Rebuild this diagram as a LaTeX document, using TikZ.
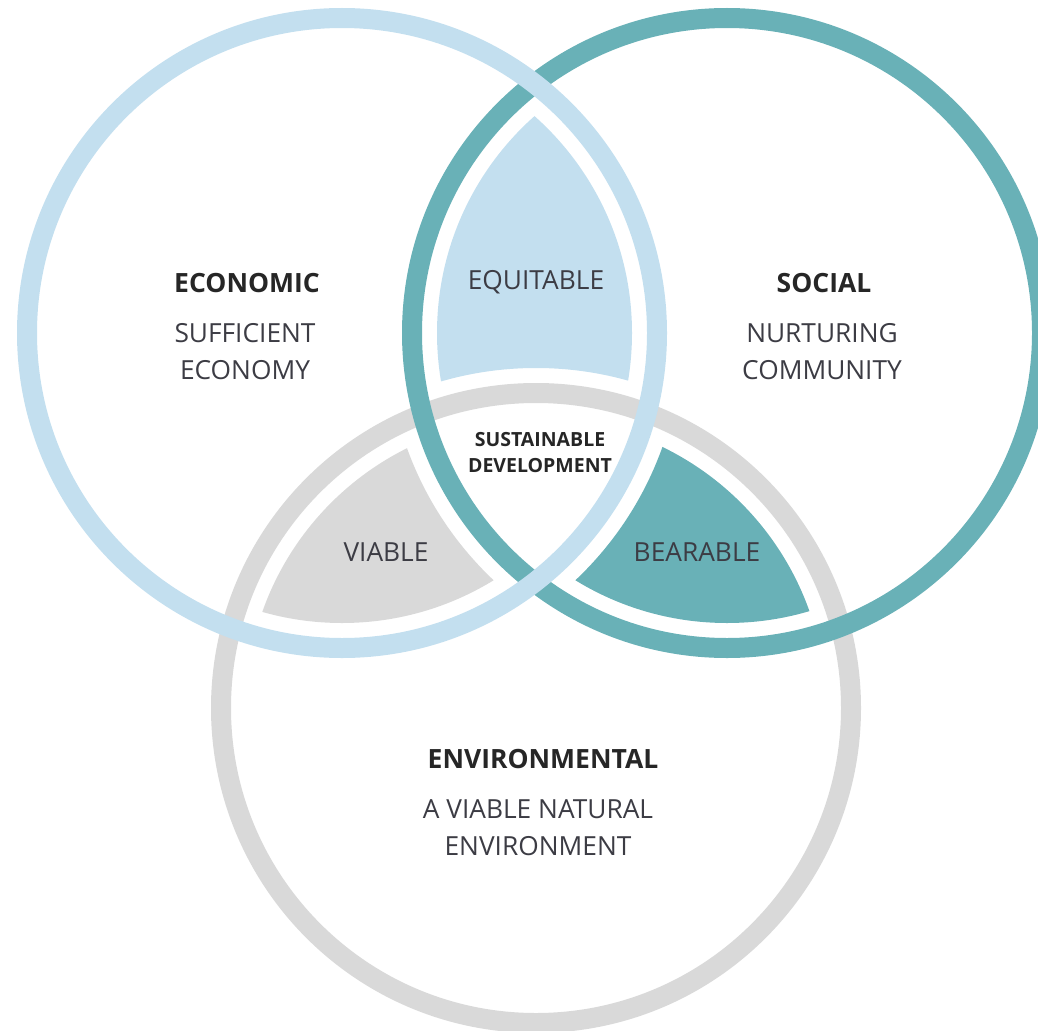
\documentclass[tikz,border=0pt]{standalone}
\usepackage{fontspec}
\setmainfont{Open Sans}
\definecolor{econblue}{HTML}{C3DFEF}
\definecolor{socteal}{HTML}{69B1B7}
\definecolor{envgray}{HTML}{D9D9D9}
\definecolor{headink}{HTML}{262626}
\definecolor{bodyink}{HTML}{3C3C44}
\begin{document}
\begin{tikzpicture}[x=1pt,y=-1pt,
    ring/.style={line width=20pt},
    headtext/.style={text=headink,font=\bfseries\fontsize{26.5}{37}\selectfont},
    bodytext/.style={text=bodyink,font=\fontsize{26.3}{37}\selectfont,align=center},
    coretext/.style={text=headink,font=\bfseries\fontsize{19.5}{26}\selectfont,align=center}]
                \useasboundingbox (0,0) rectangle (1038,1030);
                \coordinate (E) at (342,333);
                \coordinate (S) at (727,333);
                \coordinate (V) at (536,708);

                \begin{scope}
                    \clip (E) circle (290pt);
                    \clip (S) circle (290pt);
                    \fill[econblue, even odd rule] (0,0) rectangle (1038,1030) (V) circle (340pt);
                \end{scope}
                \begin{scope}
                    \clip (E) circle (290pt);
                    \clip (V) circle (290pt);
                    \fill[envgray, even odd rule] (0,0) rectangle (1038,1030) (S) circle (340pt);
                \end{scope}
                \begin{scope}
                    \clip (S) circle (290pt);
                    \clip (V) circle (290pt);
                    \fill[socteal, even odd rule] (0,0) rectangle (1038,1030) (E) circle (340pt);
                \end{scope}

                \draw[ring, envgray] (V) circle (315pt);
                \draw[ring, socteal] (S) circle (315pt);
                \draw[ring, econblue] (E) circle (315pt);

                \node[headtext] (econ) at (247,283) {ECONOMIC};
                \node[bodytext] (econtxt) at (245,352) {SUFFICIENT\\ECONOMY};
                \node[headtext] (soc) at (824,283) {SOCIAL};
                \node[bodytext] (soctxt) at (822,352) {NURTURING\\COMMUNITY};
                \node[headtext] (env) at (543,759) {ENVIRONMENTAL};
                \node[bodytext] (envtxt) at (538,828) {A VIABLE NATURAL\\ENVIRONMENT};
                \node[bodytext] (equit) at (536,282) {EQUITABLE};
                \node[bodytext] (viab) at (386,552) {VIABLE};
                \node[bodytext] (bear) at (697,552) {BEARABLE};
                \node[coretext] (core) at (540,453) {SUSTAINABLE\\DEVELOPMENT};
            \end{tikzpicture}
\end{document}
